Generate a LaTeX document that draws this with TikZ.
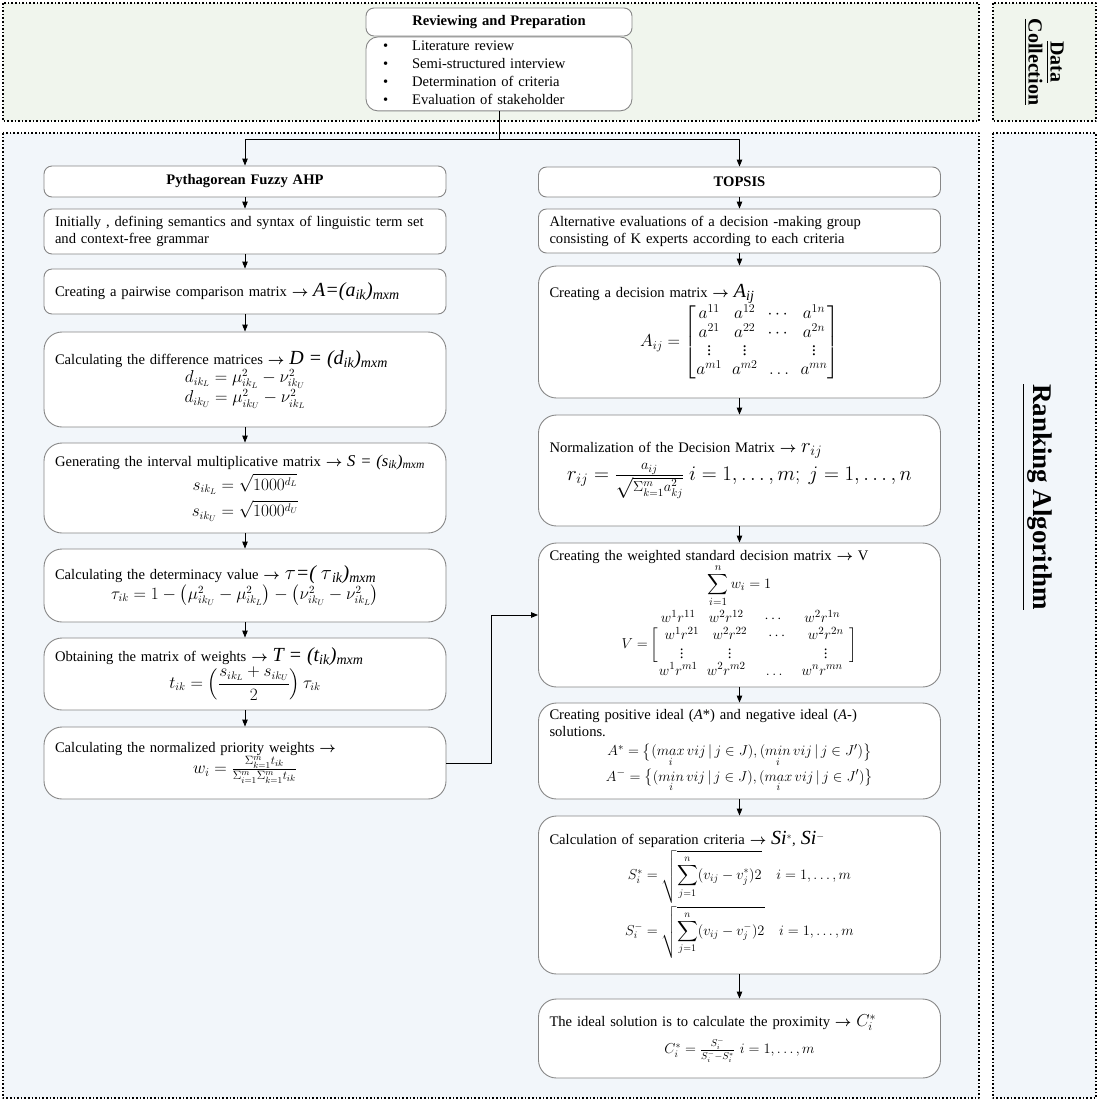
\documentclass[tikz,border=0pt]{standalone}
\usepackage{amsmath}
\usepackage{fontspec}
\setmainfont{Liberation Serif}
\usetikzlibrary{arrows.meta}

\definecolor{boxgray}{RGB}{135,135,135}
\definecolor{topfill}{RGB}{240,245,237}
\definecolor{mainfill}{RGB}{242,246,250}

\newcommand{\bigsz}{\fontsize{20}{22}\selectfont}
\newcommand{\eqline}[1]{\makebox[\hsize]{$#1$}}
\newcommand{\cel}[1]{\makebox[3.2em]{$#1$}}
\newcommand{\ra}{$\boldsymbol{\rightarrow}$}

\begin{document}
\begin{tikzpicture}[
  x=1pt, y=-1pt,
  line cap=round,
  line join=round,
  >={Triangle[length=7pt,width=5.5pt]},
  every node/.style={font=\fontsize{14.6}{17}\selectfont},
  frame/.style={draw=black, line cap=butt, line width=1.6pt,
    dash pattern=on 1.6pt off 2pt},
  stepbox/.style={draw=boxgray, fill=white, line width=0.9pt,
    rounded corners=8pt, minimum width=402pt, text width=380pt,
    inner sep=0pt, align=left},
  bigbox/.style={stepbox, rounded corners=18pt},
  headbox/.style={stepbox, align=center,
    font=\fontsize{14.6}{17}\selectfont\bfseries},
  link/.style={->, line width=0.9pt}
]
\useasboundingbox (0,0) rectangle (1099,1104);

% section frames: \fill with the dotted \draw
\draw[frame, fill=topfill] (3,3) rectangle (979,121);
\draw[frame, fill=topfill] (993,3) rectangle (1096,121);
\draw[frame, fill=mainfill] (3,133) rectangle (979,1098);
\draw[frame, fill=mainfill] (993,133) rectangle (1096,1098);

\node[rotate=-90, align=center, font=\fontsize{20}{22}\selectfont\bfseries]
  (datalbl) at (1044,62) {\underline{Data}\\\underline{Collection}};
\node[rotate=-90, font=\fontsize{27}{30}\selectfont\bfseries]
  (ranklbl) at (1037,497) {\underline{Ranking Algorithm}};

% data collection
\node[headbox, minimum width=266pt, text width=250pt, minimum height=28pt]
  (review) at (499,22) {Reviewing and Preparation};
\node[stepbox, rounded corners=12pt, minimum width=266pt, text width=232pt,
  minimum height=74pt, anchor=north] (tasks) at (review.south)
  {\def\arraystretch{1.06}%
   \begin{tabular}{@{}l@{\hspace{24pt}}l@{}}
   \textbullet & Literature review\\
   \textbullet & Semi-structured interview\\
   \textbullet & Determination of criteria\\
   \textbullet & Evaluation of stakeholder
   \end{tabular}};

% Pythagorean fuzzy AHP column
\node[headbox, minimum height=31pt] (ahp) at (245,181.5) {Pythagorean Fuzzy AHP};
\node[stepbox, minimum height=45pt] (ling) at (245,231.5)
  {Initially , defining semantics and syntax of linguistic term set\\
   and context-free grammar};
\node[stepbox, minimum height=45pt] (pair) at (245,291.5)
  {Creating a pairwise comparison matrix \ra\
   {\bigsz\itshape A=(a\textsubscript{ik})\textsubscript{mxm}}};
\node[bigbox, minimum height=95pt] (diffm) at (245,379.5)
  {Calculating the difference matrices \ra\
   {\bigsz\itshape D = (d\textsubscript{ik})\textsubscript{mxm}}\\
   {\fontsize{16}{17}\selectfont
   \eqline{d_{ik_L} = \mu^2_{ik_L} - \nu^2_{ik_U}}\\
   \eqline{d_{ik_U} = \mu^2_{ik_U} - \nu^2_{ik_L}}}};
\node[bigbox, minimum height=90pt] (inter) at (245,488)
  {Generating the interval multiplicative matrix \ra\
   {\fontsize{16.5}{18}\selectfont\itshape S = (s\textsubscript{ik})\textsubscript{mxm}}\\[3pt]
   {\fontsize{16}{17}\selectfont
   \eqline{s_{ik_L} = \sqrt{1000^{d_L}}}\\[5pt]
   \eqline{s_{ik_U} = \sqrt{1000^{d_U}}}}};
\node[bigbox, minimum height=73pt] (determ) at (245,585.5)
  {Calculating the determinacy value \ra\
   {\bigsz\itshape $\tau$=( $\tau$\textsubscript{ik})\textsubscript{mxm}}\\
   {\fontsize{16}{17}\selectfont
   \eqline{\tau_{ik} = 1 - \left(\mu^2_{ik_U} - \mu^2_{ik_L}\right)
     - \left(\nu^2_{ik_U} - \nu^2_{ik_L}\right)}}};
\node[bigbox, minimum height=72pt] (weightm) at (245,674)
  {Obtaining the matrix of weights \ra\
   {\bigsz\itshape T = (t\textsubscript{ik})\textsubscript{mxm}}\\
   {\fontsize{16}{17}\selectfont
   \eqline{t_{ik} = \left(\dfrac{s_{ik_L} + s_{ik_U}}{2}\right)\tau_{ik}}}};
\node[bigbox, minimum height=72pt] (prior) at (245,763)
  {Calculating the normalized priority  weights \ra\\
   {\fontsize{18}{19}\selectfont
   \eqline{w_i = \frac{\Sigma_{k=1}^{m} t_{ik}}{\Sigma_{i=1}^{m}\Sigma_{k=1}^{m} t_{ik}}}}};

% TOPSIS column
\node[headbox, minimum height=30pt] (topsis) at (739.5,182) {TOPSIS};
\node[stepbox, minimum height=44pt] (altev) at (739.5,231)
  {Alternative evaluations of a decision -making group\\
   consisting of K experts according to each criteria};
\node[bigbox, minimum height=132pt] (decm) at (739.5,332)
  {Creating a decision matrix \ra\ {\bigsz\itshape A\textsubscript{ij}}\\
   {\fontsize{17}{18}\selectfont
   \eqline{A_{ij} = \begin{bmatrix}
     a^{11} & a^{12} & \cdots & a^{1n}\\
     a^{21} & a^{22} & \cdots & a^{2n}\\[-4pt]
     \vdots & \vdots &        & \vdots\\
     a^{m1} & a^{m2} & \ldots & a^{mn}
   \end{bmatrix}}}};
\node[bigbox, minimum height=111pt] (normm) at (739.5,470.5)
  {Normalization of the Decision Matrix \ra\ {\fontsize{22}{24}\selectfont $r_{ij}$}\\[4pt]
   {\fontsize{21}{24}\selectfont
   \eqline{r_{ij} = \frac{a_{ij}}{\sqrt{\Sigma_{k=1}^{m} a_{kj}^2}}\
     i = 1,\ldots,m;\ j = 1,\ldots,n}}};
\node[bigbox, minimum height=144pt] (wstd) at (739.5,615)
  {Creating the weighted standard decision matrix \ra\ V\\
   {\fontsize{15}{16}\selectfont
   \eqline{\displaystyle\sum_{i=1}^{n} w_i = 1}\\[2pt]
   \eqline{\begin{array}{@{}r@{\,}l@{}}
     & \hspace{4pt}\cel{w^1r^{11}}\cel{w^2r^{12}}\cel{\cdots}\cel{w^2r^{1n}}\\
     V = & \left[\begin{array}{@{}l@{}}
       \cel{w^1r^{21}}\cel{w^2r^{22}}\cel{\cdots}\cel{w^2r^{2n}}\\[-2pt]
       \cel{\vdots}\cel{\vdots}\cel{}\cel{\vdots}
     \end{array}\right]\\
     & \hspace{4pt}\cel{w^1r^{m1}}\cel{w^2r^{m2}}\cel{\ldots}\cel{w^nr^{mn}}
   \end{array}}}};
\node[bigbox, minimum height=96pt] (ideal) at (739.5,751)
  {Creating positive ideal (\textit{A}*) and negative ideal (\textit{A}-)\\
   solutions.\\[2pt]
   {\fontsize{15.5}{17}\selectfont
   \eqline{A^{*} = \bigl\{(\underset{i}{max}\,vij\,|\,j \in J),
     (\underset{i}{min}\,vij\,|\,j \in J')\bigr\}}\\[1pt]
   \eqline{A^{-} = \bigl\{(\underset{i}{min}\,vij\,|\,j \in J),
     (\underset{i}{max}\,vij\,|\,j \in J')\bigr\}}}};
\node[bigbox, minimum height=158pt] (separ) at (739.5,895)
  {Calculation of separation criteria \ra\
   {\bigsz\itshape Si}$^{*}$, {\bigsz\itshape Si}$^{-}$\\[2pt]
   \eqline{S_i^{*} = \sqrt{\displaystyle\sum_{j=1}^{n}(v_{ij} - v_j^{*})2}\quad i = 1,\ldots,m}\\[2pt]
   \eqline{S_i^{-} = \sqrt{\displaystyle\sum_{j=1}^{n}(v_{ij} - v_j^{-})2}\quad i = 1,\ldots,m}};
\node[bigbox, minimum height=79pt] (proxim) at (739.5,1038.5)
  {The ideal solution is to calculate the proximity \ra\
   {\fontsize{17}{19}\selectfont $C_i^{*}$}\\[6pt]
   \eqline{C_i^{*} = \frac{S_i^{-}}{S_i^{-} - S_i^{*}}\ i = 1,\ldots,m}};

% connectors
\coordinate (split) at (499,139);
\draw[line width=0.9pt] (tasks) -- (split);
\draw[link] (split) -| (ahp);
\draw[link] (split) -| (topsis);
\foreach \a/\b in {ahp/ling, ling/pair, pair/diffm, diffm/inter, inter/determ,
  determ/weightm, weightm/prior, topsis/altev, altev/decm, decm/normm,
  normm/wstd, wstd/ideal, ideal/separ, separ/proxim}
  \draw[link] (\a) -- (\b);
\draw[link] (prior.east) -- ++(45,0) |- (wstd.west);

\end{tikzpicture}
\end{document}
